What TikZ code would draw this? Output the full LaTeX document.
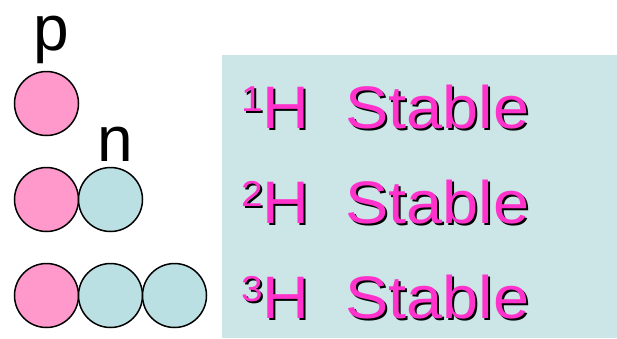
\documentclass[tikz,border=0pt]{standalone}
\usepackage{fontspec}
\setmainfont{Liberation Sans}
\newfontfamily\rowfont[FakeStretch=1.08]{Liberation Sans}
\definecolor{protonpink}{HTML}{FF99CC}
\definecolor{neutronblue}{HTML}{BBE0E3}
\definecolor{panelblue}{HTML}{CCE6E8}
\definecolor{labelmagenta}{HTML}{FF33CC}
\newcommand{\isotext}[1]{\raisebox{17pt}{\fontsize{36}{36}\selectfont #1}H\ \ Stable}
\begin{document}
\begin{tikzpicture}[x=1pt,y=-1pt,
  nucleon/.style={circle,draw=black,line width=1.5pt,minimum size=64pt,inner sep=0pt},
  proton/.style={nucleon,fill=protonpink},
  neutron/.style={nucleon,fill=neutronblue},
  partlabel/.style={anchor=base,inner sep=0pt,text height=0.55em,font=\fontsize{64}{64}\selectfont},
  rowtext/.style={anchor=base west,inner sep=0pt,font=\rowfont\fontsize{60}{60}\selectfont},
  rowshadow/.style={rowtext,text=black},
  rowfront/.style={rowtext,text=labelmagenta}]
\useasboundingbox (0,0) rectangle (617,338);
\fill[panelblue] (222,55) rectangle (617,338);
% nucleons
\node[proton] (p1) at (46.5,103.5) {};
\node[proton] (p2) at (46.5,199.5) {};
\node[neutron] (n2) at (110.5,199.5) {};
\node[proton] (p3) at (46.5,295.5) {};
\node[neutron] (n3a) at (110.5,295.5) {};
\node[neutron] (n3b) at (174.5,295.5) {};
% labels
\node[partlabel] (lp) at (51.5,50) {p};
\node[partlabel] (ln) at (115,161) {n};
% isotope rows
\node[rowshadow] (s1) at (243,130) {\isotext{1}};
\node[rowfront]  (t1) at (241,128) {\isotext{1}};
\node[rowshadow] (s2) at (243,225) {\isotext{2}};
\node[rowfront]  (t2) at (241,223) {\isotext{2}};
\node[rowshadow] (s3) at (243,320) {\isotext{3}};
\node[rowfront]  (t3) at (241,318) {\isotext{3}};
\end{tikzpicture}
\end{document}
